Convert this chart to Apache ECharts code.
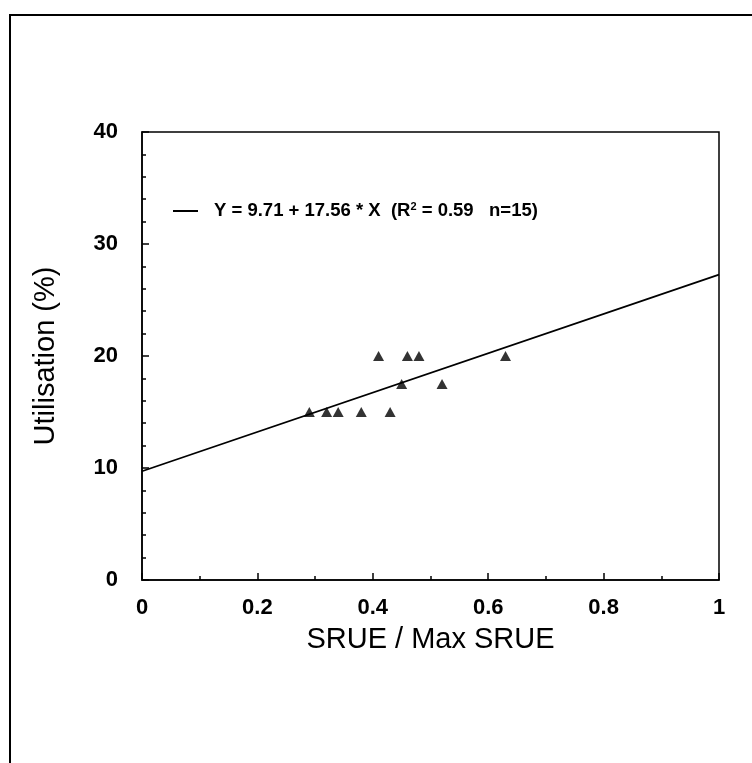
<!DOCTYPE html>
<html>
<head>
<meta charset="utf-8">
<script src="https://cdn.jsdelivr.net/npm/echarts@6/dist/echarts.min.js"></script>
<style>
  html, body { margin: 0; padding: 0; background: #fff; }
  #chart { width: 752px; height: 763px; }
</style>
</head>
<body>
<div id="chart"></div>
<script>
// Observed points: relative SRUE vs. utilisation
const srueRatio   = [0.29, 0.32, 0.34, 0.38, 0.41, 0.43, 0.45, 0.46, 0.48, 0.52, 0.63];
const utilisation = [15,   15,   15,   15,   20,   15,   17.5, 20,   20,   17.5, 20];

// Fitted regression: Y = intercept + slope * X
const intercept = 9.71;
const slope = 17.56;
const fitRange = [0, 1];

const xTicks = [0, 0.2, 0.4, 0.6, 0.8, 1];
const yTicks = [0, 10, 20, 30, 40];

const points = srueRatio.map((x, i) => [x, utilisation[i]]);
const fitLine = fitRange.map(x => [x, intercept + slope * x]);

const chart = echarts.init(document.getElementById('chart'), null, { renderer: 'canvas' });

const FONT = 'Liberation Sans, Arial, sans-serif';

chart.setOption({
  animation: false,
  backgroundColor: '#fff',
  graphic: [{
    type: 'polyline',
    shape: { points: [[10, 763], [10, 15], [752, 15]] },
    style: { stroke: '#000', lineWidth: 2, fill: null }
  }],
  grid: {
    left: 142, top: 132, right: 33, bottom: 183,
    show: true, borderColor: '#000', borderWidth: 1.5, backgroundColor: 'transparent'
  },
  legend: {
    left: 173, top: 201, padding: 0,
    itemWidth: 25, itemHeight: 10, itemGap: 0,
    data: [{ name: 'fit', icon: 'path://M0,0 L25,0 L25,2 L0,2 Z', itemStyle: { color: '#000' } }],
    formatter: () => '{t|Y = 9.71 + 17.56 * X  (R}{s|2}{t| = 0.59   n=15)}',
    textStyle: {
      padding: [0, 0, 0, 11],
      rich: {
        t: { fontSize: 18.5, fontWeight: 'bold', color: '#000', fontFamily: FONT },
        s: { fontSize: 11, fontWeight: 'bold', color: '#000', fontFamily: FONT, verticalAlign: 'bottom', padding: [0, 0, 9, 0] }
      }
    }
  },
  xAxis: {
    type: 'value', min: 0, max: 1, interval: 0.2,
    name: 'SRUE / Max SRUE', nameLocation: 'middle', nameGap: 45,
    nameTextStyle: { fontSize: 29, color: '#000', fontFamily: FONT },
    axisLine: { lineStyle: { color: '#000', width: 1.5 } },
    axisTick: { inside: true, length: 7, lineStyle: { color: '#000', width: 1.5 } },
    minorTick: { show: true, splitNumber: 2, length: 4, lineStyle: { color: '#000', width: 1.5 } },
    splitLine: { show: false },
    axisLabel: {
      fontSize: 22, fontWeight: 'bold', margin: 17, color: '#000', fontFamily: FONT,
      formatter: v => {
        const t = xTicks.find(k => Math.abs(k - v) < 1e-9);
        return t === undefined ? '' : String(t);
      }
    }
  },
  yAxis: {
    type: 'value', min: 0, max: 40, interval: 10,
    name: 'Utilisation (%)', nameLocation: 'middle', nameGap: 82, nameRotate: 90,
    nameTextStyle: { fontSize: 29, color: '#000', fontFamily: FONT },
    axisLine: { lineStyle: { color: '#000', width: 1.5 } },
    axisTick: { inside: true, length: 7, lineStyle: { color: '#000', width: 1.5 } },
    minorTick: { show: true, splitNumber: 5, length: 4, lineStyle: { color: '#000', width: 1.5 } },
    splitLine: { show: false },
    axisLabel: {
      fontSize: 22, fontWeight: 'bold', margin: 24, color: '#000', fontFamily: FONT,
      formatter: v => {
        const t = yTicks.find(k => Math.abs(k - v) < 1e-9);
        return t === undefined ? '' : String(t);
      }
    }
  },
  series: [
    {
      name: 'fit', type: 'line', data: fitLine, color: '#000',
      symbol: 'none', lineStyle: { color: '#000', width: 1.8 },
      itemStyle: { color: '#000' }, z: 3
    },
    {
      name: 'observed', type: 'scatter', data: points, color: '#000',
      symbol: 'triangle', symbolSize: [11, 10],
      itemStyle: { color: '#000' }, z: 4
    }
  ]
});
</script>
</body>
</html>
